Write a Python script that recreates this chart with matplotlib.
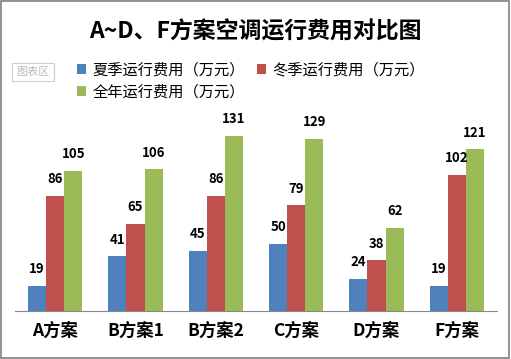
import matplotlib.pyplot as plt
import numpy as np
from matplotlib.patches import Rectangle

plt.rcParams['font.family'] = ['Noto Sans CJK SC', 'DejaVu Sans']

categories = ['A方案', 'B方案1', 'B方案2', 'C方案', 'D方案', 'F方案']
summer = [19, 41, 45, 50, 24, 19]
winter = [86, 65, 86, 79, 38, 102]
annual = [105, 106, 131, 129, 62, 121]
series_names = ['夏季运行费用（万元）', '冬季运行费用（万元）', '全年运行费用（万元）']
colors = ['#4F81BD', '#C0504D', '#9BBB59']

fig = plt.figure(figsize=(5.11, 3.59), dpi=100)
fig.patches.append(Rectangle((0.002, 0.003), 0.994, 0.994, transform=fig.transFigure,
                             fill=False, edgecolor='#808080', linewidth=1.2))

ax = fig.add_axes([15 / 511, 48 / 359, 482 / 511, 187 / 359])
x = np.arange(len(categories))
width = 0.225
bars = []
for i, (vals, name, c) in enumerate(zip([summer, winter, annual], series_names, colors)):
    b = ax.bar(x + (i - 1) * width, vals, width, color=c, label=name)
    ax.bar_label(b, padding=7, fontsize=9.5, fontweight='bold')
    bars.append(b)

ax.set_xlim(-0.5, len(categories) - 0.5)
ax.set_ylim(0, 140)
ax.set_yticks([])
ax.set_xticks(x)
ax.set_xticklabels(categories, fontsize=12.5, fontweight='bold')
ax.tick_params(axis='x', length=0, pad=8)
for s in ['top', 'left', 'right']:
    ax.spines[s].set_visible(False)
ax.spines['bottom'].set_color('#888888')

fig.text(0.5, 1 - 32 / 359, 'A~D、F方案空调运行费用对比图', ha='center', va='center',
         fontsize=16.5, fontweight='bold')

handles = bars
fig.legend(handles[:2], series_names[:2], loc='center left', bbox_to_anchor=(77 / 511, 1 - 70 / 359),
           ncol=2, frameon=False, fontsize=11, handlelength=0.6, handleheight=0.6,
           handletextpad=0.4, columnspacing=0.8, borderaxespad=0, borderpad=0)
fig.legend(handles[2:], series_names[2:], loc='center left', bbox_to_anchor=(77 / 511, 1 - 92 / 359),
           frameon=False, fontsize=11, handlelength=0.6, handleheight=0.6,
           handletextpad=0.4, borderaxespad=0, borderpad=0)

fig.text(33 / 511, 1 - 72 / 359, '图表区', ha='center', va='center', fontsize=8, color='#BBBBBB',
         bbox=dict(boxstyle='square,pad=0.35', fc='white', ec='#CCCCCC', lw=0.8))

fig.savefig('out.png', dpi=100)
